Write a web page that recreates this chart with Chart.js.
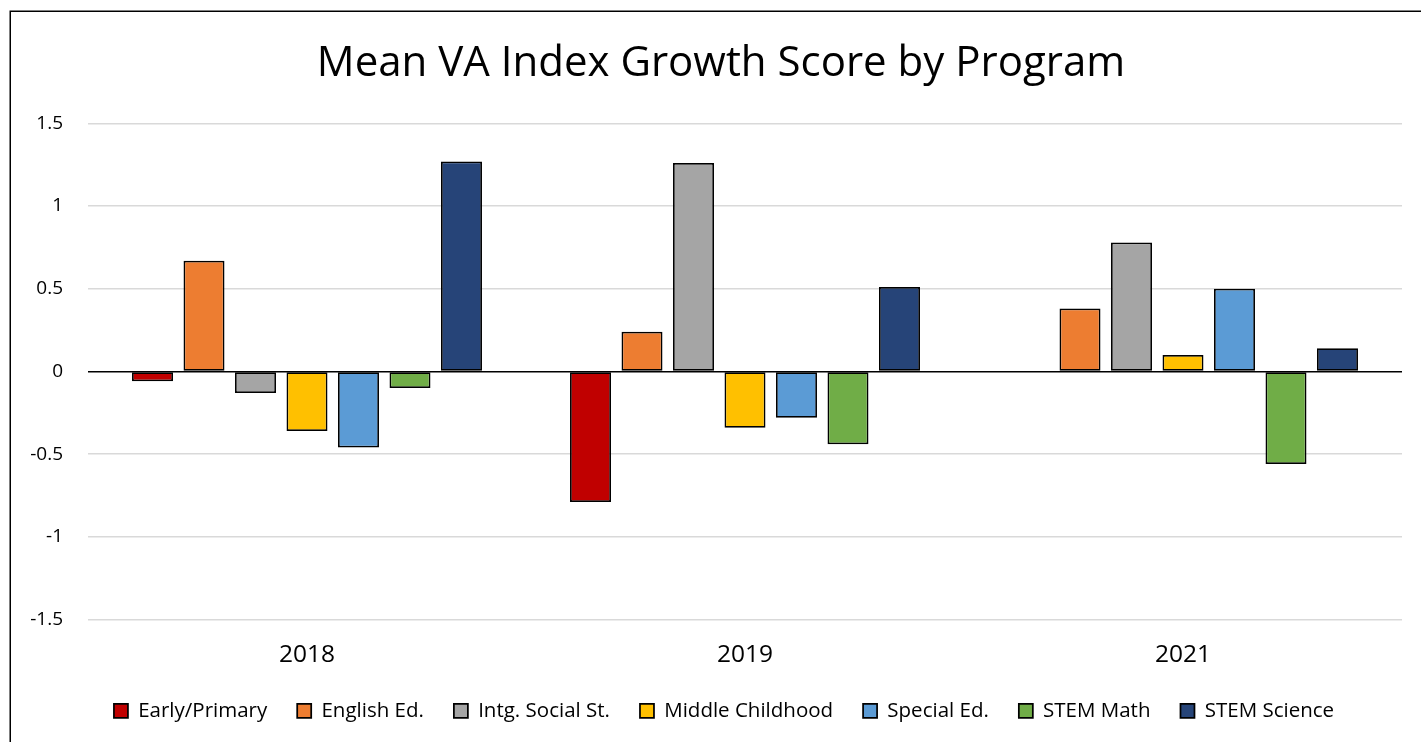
<!DOCTYPE html>
<html>
<head>
<meta charset="utf-8">
<script src="https://cdn.jsdelivr.net/npm/chart.js@4.4.1/dist/chart.umd.min.js"></script>
<style>
  html, body { margin: 0; padding: 0; background: #ffffff; }
  #wrap { position: absolute; left: 0; top: 0; width: 1421px; height: 742px; }
</style>
</head>
<body>
<div id="wrap"><canvas id="c" width="1421" height="742"></canvas></div>
<script>
const chartTitle = 'Mean VA Index Growth Score by Program';
const years = ['2018', '2019', '2021'];
const programs = ['Early/Primary', 'English Ed.', 'Intg. Social St.', 'Middle Childhood', 'Special Ed.', 'STEM Math', 'STEM Science'];
const earlyPrimary = [-0.06, -0.79, null];
const englishEd = [0.67, 0.24, 0.38];
const intgSocialSt = [-0.13, 1.26, 0.78];
const middleChildhood = [-0.36, -0.34, 0.10];
const specialEd = [-0.46, -0.28, 0.50];
const stemMath = [-0.10, -0.44, -0.56];
const stemScience = [1.27, 0.51, 0.14];
const yTicks = [-1.5, -1, -0.5, 0, 0.5, 1, 1.5];

const seriesValues = [earlyPrimary, englishEd, intgSocialSt, middleChildhood, specialEd, stemMath, stemScience];
const seriesColors = ['#C00000', '#ED7D31', '#A5A5A5', '#FFC000', '#5B9BD5', '#70AD47', '#264478'];
const FONT = "'Open Sans', 'DejaVu Sans', sans-serif";

const framePlugin = {
  id: 'frame',
  afterLayout(chart) {
    // centre the title and legend on the outer frame rather than the canvas
    if (chart.titleBlock) { chart.titleBlock.left += 20; chart.titleBlock.right += 20; }
    if (chart.legend) { chart.legend.left += 23; chart.legend.right += 23; }
  },
  beforeDraw(chart) {
    const ctx = chart.ctx;
    ctx.save();
    ctx.fillStyle = '#ffffff';
    ctx.fillRect(0, 0, chart.width, chart.height);
    ctx.restore();
  },
  afterDraw(chart) {
    const ctx = chart.ctx;
    ctx.save();
    ctx.strokeStyle = '#000000';
    ctx.lineWidth = 1.5;
    ctx.strokeRect(10.25, 11.25, 1500, 1000);
    ctx.restore();
  }
};

new Chart(document.getElementById('c'), {
  type: 'bar',
  data: {
    labels: years,
    datasets: programs.map((name, i) => ({
      label: name,
      data: seriesValues[i],
      backgroundColor: seriesColors[i],
      borderColor: '#000000',
      borderWidth: 1.75,
      borderSkipped: false,
      categoryPercentage: 0.823,
      barPercentage: 0.796
    }))
  },
  options: {
    responsive: false,
    animation: false,
    devicePixelRatio: 1,
    layout: { padding: { left: 0, right: 19, top: 0, bottom: 11 } },
    scales: {
      x: {
        grid: { display: false, drawTicks: false },
        border: { display: false },
        ticks: { color: '#000000', font: { family: FONT, size: 24.5 }, padding: 21 },
        afterFit(scale) { scale.height = 51; }
      },
      y: {
        min: -1.5,
        max: 1.5,
        afterBuildTicks(scale) { scale.ticks = yTicks.map(v => ({ value: v })); },
        grid: {
          drawTicks: false,
          color: ctx => (ctx.tick && ctx.tick.value === 0) ? '#000000' : '#D9D9D9',
          lineWidth: 1.5
        },
        border: { display: false },
        ticks: {
          color: '#000000',
          font: { family: FONT, size: 19 },
          padding: 25,
          callback: v => String(v)
        },
        afterFit(scale) { scale.width = 88; }
      }
    },
    plugins: {
      title: {
        display: true,
        text: chartTitle,
        color: '#000000',
        font: { family: FONT, size: 42, weight: 'normal' },
        padding: { top: 39, bottom: 34 }
      },
      legend: {
        position: 'bottom',
        labels: {
          color: '#000000',
          font: { family: FONT, size: 20.5 },
          boxWidth: 14,
          boxHeight: 14,
          padding: 30
        }
      },
      tooltip: { enabled: false }
    }
  },
  plugins: [framePlugin]
});
</script>
</body>
</html>
